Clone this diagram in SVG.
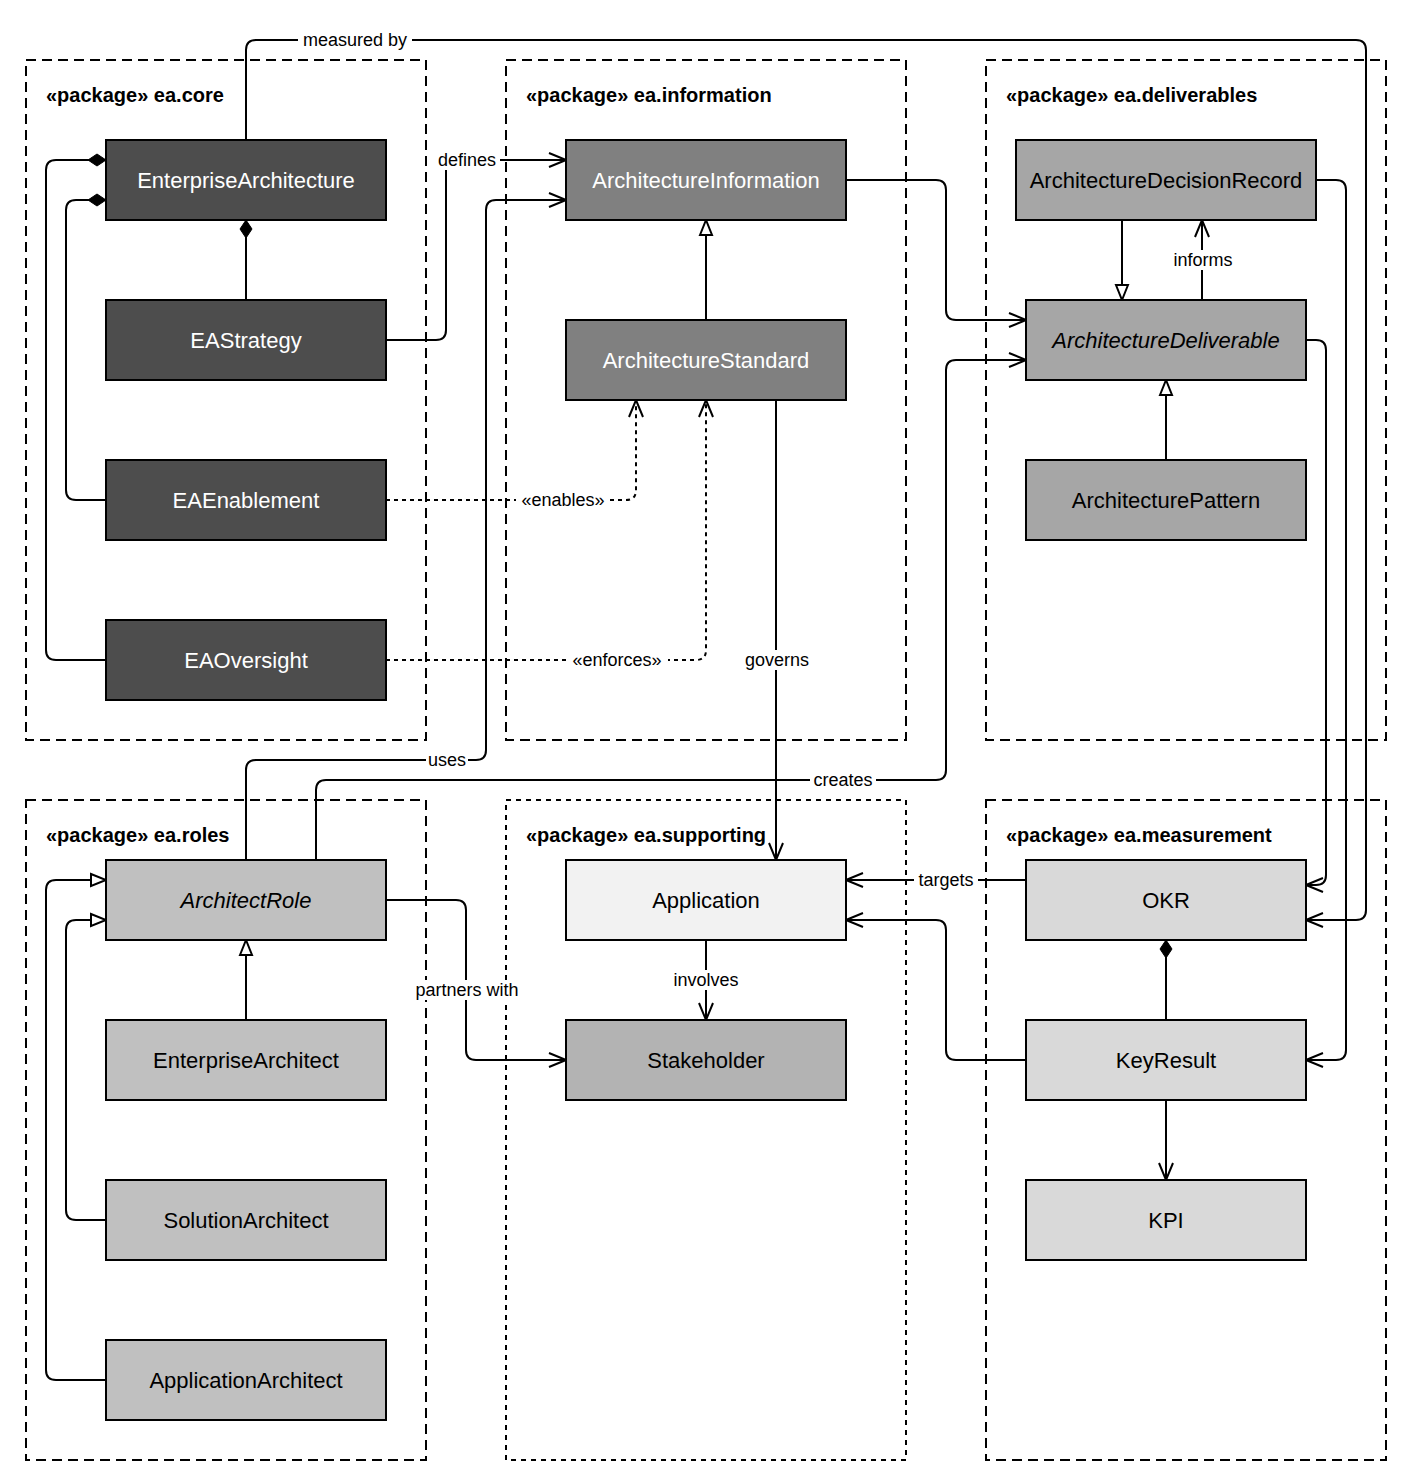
<svg xmlns="http://www.w3.org/2000/svg" width="1401" height="1476" viewBox="0 0 1401 1476">
<style>
.pkg{fill:none;stroke:#000;stroke-width:2;stroke-dasharray:10 6}
.pkg2{fill:none;stroke:#000;stroke-width:2;stroke-dasharray:5 5}
.pt{font-family:"Liberation Sans",Arial,sans-serif;font-size:20px;font-weight:bold;fill:#000}
.n rect{stroke:#000;stroke-width:2}
.n text{font-family:"Liberation Sans",Arial,sans-serif;font-size:22px;text-anchor:middle;dominant-baseline:central}
.w text{fill:#fff}
.c path{fill:none;stroke:#000;stroke-width:2}
.c .d{stroke-dasharray:4 4}
.lb{font-family:"Liberation Sans",Arial,sans-serif;font-size:18px;text-anchor:middle;dominant-baseline:central;fill:#000}
.lbg{fill:#fff}
</style>
<defs>
<marker id="open" viewBox="0 0 20 20" refX="19" refY="10" markerWidth="20" markerHeight="20" markerUnits="userSpaceOnUse" orient="auto"><path d="M2,3 L19,10 L2,17" fill="none" stroke="#000" stroke-width="2"/></marker>
<marker id="tri" viewBox="0 0 20 20" refX="18" refY="10" markerWidth="20" markerHeight="20" markerUnits="userSpaceOnUse" orient="auto"><path d="M3,4 L18,10 L3,16 Z" fill="#fff" stroke="#000" stroke-width="2"/></marker>
<marker id="dia" viewBox="0 0 20 20" refX="19" refY="10" markerWidth="20" markerHeight="20" markerUnits="userSpaceOnUse" orient="auto"><path d="M1,10 L10,4 L19,10 L10,16 Z" fill="#000" stroke="#000" stroke-width="1"/></marker>
</defs>

<g id="packages">
<rect class="pkg" x="26" y="60" width="400" height="680"/><text class="pt" x="46" y="102">«package» ea.core</text>
<rect class="pkg" x="506" y="60" width="400" height="680"/><text class="pt" x="526" y="102">«package» ea.information</text>
<rect class="pkg" x="986" y="60" width="400" height="680"/><text class="pt" x="1006" y="102">«package» ea.deliverables</text>
<rect class="pkg" x="26" y="800" width="400" height="660"/><text class="pt" x="46" y="842">«package» ea.roles</text>
<rect class="pkg2" x="506" y="800" width="400" height="660"/><text class="pt" x="526" y="842">«package» ea.supporting</text>
<rect class="pkg" x="986" y="800" width="400" height="660"/><text class="pt" x="1006" y="842">«package» ea.measurement</text>
</g>

<g id="connectors" class="c">
<path d="M246,300 V220" marker-end="url(#dia)"/>
<path d="M106,500 H76 Q66,500 66,490 V210 Q66,200 76,200 H106" marker-end="url(#dia)"/>
<path d="M106,660 H56 Q46,660 46,650 V170 Q46,160 56,160 H106" marker-end="url(#dia)"/>
<path d="M246,140 V50 Q246,40 256,40 H1356 Q1366,40 1366,50 V910 Q1366,920 1356,920 H1306" marker-end="url(#open)"/>
<path d="M386,340 H436 Q446,340 446,330 V170 Q446,160 456,160 H566" marker-end="url(#open)"/>
<path d="M246,860 V770 Q246,760 256,760 H476 Q486,760 486,750 V210 Q486,200 496,200 H566" marker-end="url(#open)"/>
<path d="M316,860 V790 Q316,780 326,780 H936 Q946,780 946,770 V370 Q946,360 956,360 H1026" marker-end="url(#open)"/>
<path d="M846,180 H936 Q946,180 946,190 V310 Q946,320 956,320 H1026" marker-end="url(#open)"/>
<path d="M706,320 V220" marker-end="url(#tri)"/>
<path class="d" d="M386,500 H626 Q636,500 636,490 V400" marker-end="url(#open)"/>
<path class="d" d="M386,660 H696 Q706,660 706,650 V400" marker-end="url(#open)"/>
<path d="M776,400 V860" marker-end="url(#open)"/>
<path d="M1122,220 V300" marker-end="url(#tri)"/>
<path d="M1202,300 V220" marker-end="url(#open)"/>
<path d="M1166,460 V380" marker-end="url(#tri)"/>
<path d="M1316,180 H1336 Q1346,180 1346,190 V1050 Q1346,1060 1336,1060 H1306" marker-end="url(#open)"/>
<path d="M1306,340 H1316 Q1326,340 1326,350 V875 Q1326,885 1316,885 H1306" marker-end="url(#open)"/>
<path d="M1026,880 H846" marker-end="url(#open)"/>
<path d="M1026,1060 H956 Q946,1060 946,1050 V930 Q946,920 936,920 H846" marker-end="url(#open)"/>
<path d="M1166,1020 V940" marker-end="url(#dia)"/>
<path d="M1166,1100 V1180" marker-end="url(#open)"/>
<path d="M706,940 V1020" marker-end="url(#open)"/>
<path d="M386,900 H456 Q466,900 466,910 V1050 Q466,1060 476,1060 H566" marker-end="url(#open)"/>
<path d="M246,1020 V940" marker-end="url(#tri)"/>
<path d="M106,1220 H76 Q66,1220 66,1210 V930 Q66,920 76,920 H106" marker-end="url(#tri)"/>
<path d="M106,1380 H56 Q46,1380 46,1370 V890 Q46,880 56,880 H106" marker-end="url(#tri)"/>
<g id="labels">
<rect class="lbg" x="298" y="30" width="114" height="20"/><text class="lb" x="355" y="40">measured by</text>
<rect class="lbg" x="434" y="150" width="66" height="20"/><text class="lb" x="467" y="160">defines</text>
<rect class="lbg" x="426" y="750" width="42" height="20"/><text class="lb" x="447" y="760">uses</text>
<rect class="lbg" x="810" y="770" width="66" height="20"/><text class="lb" x="843" y="780">creates</text>
<rect class="lbg" x="516" y="490" width="94" height="20"/><text class="lb" x="563" y="500">«enables»</text>
<rect class="lbg" x="566" y="650" width="102" height="20"/><text class="lb" x="617" y="660">«enforces»</text>
<rect class="lbg" x="740" y="650" width="74" height="20"/><text class="lb" x="777" y="660">governs</text>
<rect class="lbg" x="1168" y="250" width="70" height="20"/><text class="lb" x="1203" y="260">informs</text>
<rect class="lbg" x="914" y="870" width="64" height="20"/><text class="lb" x="946" y="880">targets</text>
<rect class="lbg" x="668" y="970" width="76" height="20"/><text class="lb" x="706" y="980">involves</text>
<rect class="lbg" x="408" y="980" width="118" height="20"/><text class="lb" x="467" y="990">partners with</text>
</g>
</g>

<g id="EnterpriseArchitecture" class="n w"><rect x="106" y="140" width="280" height="80" fill="#4d4d4d"/><text x="246" y="180">EnterpriseArchitecture</text></g>
<g id="EAStrategy" class="n w"><rect x="106" y="300" width="280" height="80" fill="#4d4d4d"/><text x="246" y="340">EAStrategy</text></g>
<g id="EAEnablement" class="n w"><rect x="106" y="460" width="280" height="80" fill="#4d4d4d"/><text x="246" y="500">EAEnablement</text></g>
<g id="EAOversight" class="n w"><rect x="106" y="620" width="280" height="80" fill="#4d4d4d"/><text x="246" y="660">EAOversight</text></g>
<g id="ArchitectureInformation" class="n w"><rect x="566" y="140" width="280" height="80" fill="#808080"/><text x="706" y="180">ArchitectureInformation</text></g>
<g id="ArchitectureStandard" class="n w"><rect x="566" y="320" width="280" height="80" fill="#808080"/><text x="706" y="360">ArchitectureStandard</text></g>
<g id="ArchitectureDecisionRecord" class="n"><rect x="1016" y="140" width="300" height="80" fill="#a6a6a6"/><text x="1166" y="180">ArchitectureDecisionRecord</text></g>
<g id="ArchitectureDeliverable" class="n"><rect x="1026" y="300" width="280" height="80" fill="#a6a6a6"/><text x="1166" y="340" font-style="italic">ArchitectureDeliverable</text></g>
<g id="ArchitecturePattern" class="n"><rect x="1026" y="460" width="280" height="80" fill="#a6a6a6"/><text x="1166" y="500">ArchitecturePattern</text></g>
<g id="ArchitectRole" class="n"><rect x="106" y="860" width="280" height="80" fill="#c0c0c0"/><text x="246" y="900" font-style="italic">ArchitectRole</text></g>
<g id="EnterpriseArchitect" class="n"><rect x="106" y="1020" width="280" height="80" fill="#c0c0c0"/><text x="246" y="1060">EnterpriseArchitect</text></g>
<g id="SolutionArchitect" class="n"><rect x="106" y="1180" width="280" height="80" fill="#c0c0c0"/><text x="246" y="1220">SolutionArchitect</text></g>
<g id="ApplicationArchitect" class="n"><rect x="106" y="1340" width="280" height="80" fill="#c0c0c0"/><text x="246" y="1380">ApplicationArchitect</text></g>
<g id="Application" class="n"><rect x="566" y="860" width="280" height="80" fill="#f2f2f2"/><text x="706" y="900">Application</text></g>
<g id="Stakeholder" class="n"><rect x="566" y="1020" width="280" height="80" fill="#b3b3b3"/><text x="706" y="1060">Stakeholder</text></g>
<g id="OKR" class="n"><rect x="1026" y="860" width="280" height="80" fill="#d9d9d9"/><text x="1166" y="900">OKR</text></g>
<g id="KeyResult" class="n"><rect x="1026" y="1020" width="280" height="80" fill="#d9d9d9"/><text x="1166" y="1060">KeyResult</text></g>
<g id="KPI" class="n"><rect x="1026" y="1180" width="280" height="80" fill="#d9d9d9"/><text x="1166" y="1220">KPI</text></g>
</svg>
